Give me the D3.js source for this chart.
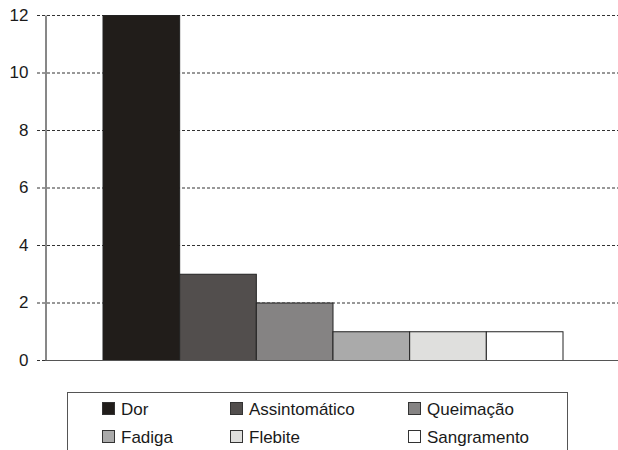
<!DOCTYPE html>
<html><head><meta charset="utf-8">
<script src="https://cdn.jsdelivr.net/npm/d3@7"></script>
<style>body{margin:0;background:#fff;}svg{display:block;font-family:Arial,"Liberation Sans",sans-serif;}</style>
</head><body><svg id="c" width="618" height="450"></svg>
<script>
const categories = ["Dor","Assintomático","Queimação","Fadiga","Flebite","Sangramento"];
const values = [12,3,2,1,1,1];
const colors = ["#211d1a","#524e4d","#858383","#aaaaaa","#dfdfdd","#ffffff"];
const yTicks = [0,2,4,6,8,10,12];

const svg = d3.select("#c");
const x = d3.scaleBand().domain(categories).range([45,620]).paddingInner(0).paddingOuter(0.75);
const y = d3.scaleLinear().domain([0,12]).range([360,15]);

// gridlines
svg.append("g").selectAll("line").data(yTicks.filter(d=>d>0)).join("line")
  .attr("x1",37).attr("x2",618).attr("y1",d=>y(d)+0.5).attr("y2",d=>y(d)+0.5)
  .attr("stroke","#333").attr("stroke-width",1).attr("stroke-dasharray","3,2");

// bars
svg.append("g").selectAll("rect").data(categories).join("rect")
  .attr("x",d=>x(d)+0.5).attr("y",(d,i)=>y(values[i])+0.5)
  .attr("width",x.bandwidth()).attr("height",(d,i)=>y(0)-y(values[i]))
  .attr("fill",(d,i)=>colors[i]).attr("stroke","#222").attr("stroke-width",1);

// y axis
const yAxis = d3.axisLeft(y).tickValues(yTicks).tickSize(0).tickPadding(17);
const ga = svg.append("g").attr("transform","translate(45.5,0)").call(yAxis);
ga.attr("font-size",null).attr("font-family",null);
ga.select(".domain").attr("stroke","#111");
ga.selectAll("text").style("font-size","17px").attr("fill","#1a1a1a").style("font-family","Arial,'Liberation Sans',sans-serif");
// x baseline
svg.append("line").attr("x1",45).attr("x2",618).attr("y1",y(0)+0.5).attr("y2",y(0)+0.5).attr("stroke","#555").attr("stroke-width",1.2);
svg.append("line").attr("x1",37).attr("x2",45).attr("y1",y(0)+0.5).attr("y2",y(0)+0.5).attr("stroke","#333").attr("stroke-dasharray","3,2");

// legend
const lg = svg.append("g");
lg.append("rect").attr("x",67.5).attr("y",392.5).attr("width",500).attr("height",80).attr("fill","#fff").attr("stroke","#555");
const colX = [102,230,408], rowY = [409,437];
const items = lg.selectAll("g.it").data(categories).join("g")
  .attr("transform",(d,i)=>`translate(${colX[i%3]},${rowY[Math.floor(i/3)]})`);
items.append("rect").attr("x",0.5).attr("y",-6.5).attr("width",12).attr("height",12)
  .attr("fill",(d,i)=>colors[i]).attr("stroke","#333");
items.append("text").attr("x",19).attr("y",0).attr("dy","0.35em").style("font-size","17px").attr("fill","#1a1a1a").text(d=>d);
</script></body></html>
